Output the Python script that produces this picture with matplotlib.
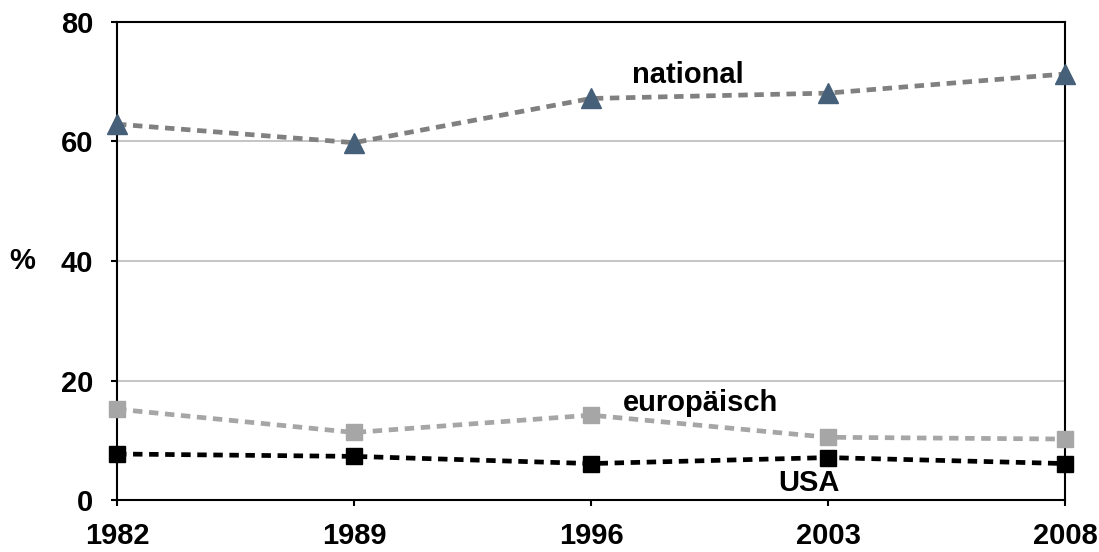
import matplotlib
matplotlib.use("Agg")
import matplotlib.pyplot as plt

years = ["1982", "1989", "1996", "2003", "2008"]
national = [62.9, 59.8, 67.2, 68.1, 71.3]
europaeisch = [15.2, 11.3, 14.2, 10.5, 10.2]
usa = [7.7, 7.3, 6.1, 7.1, 6.1]
yticks = [0, 20, 40, 60, 80]

plt.rcParams['font.family'] = ['Liberation Sans', 'DejaVu Sans']
plt.rcParams['font.weight'] = 'bold'

FS = 21

fig = plt.figure(figsize=(10.99, 5.52), dpi=100)
ax = fig.add_axes([117/1099, 1-500/552, (1065-117)/1099, (500-22)/552])

x = list(range(len(years)))
ax.plot(x, national, linestyle=(0, (2.0, 1.4)), color='#808080', lw=3.4,
        marker='^', ms=14, mfc='#466079', mec='#466079', clip_on=False, zorder=3)
ax.plot(x, europaeisch, linestyle=(0, (2.0, 1.4)), color='#a6a6a6', lw=3.4,
        marker='s', ms=11, mfc='#a6a6a6', mec='#a6a6a6', clip_on=False, zorder=3)
ax.plot(x, usa, linestyle=(0, (2.0, 1.4)), color='black', lw=3.4,
        marker='s', ms=11, mfc='black', mec='black', clip_on=False, zorder=3)

ax.set_xlim(0, 4)
ax.set_ylim(0, 80)
ax.set_xticks(x)
ax.set_xticklabels(years, fontsize=FS, fontweight='bold')
ax.set_yticks(yticks)
ax.set_yticklabels([str(v) for v in yticks], fontsize=FS, fontweight='bold')
ax.tick_params(axis='x', direction='out', length=4, width=1.5, pad=12)
ax.tick_params(axis='y', direction='out', length=4, width=1.5, pad=13)
for s in ax.spines.values():
    s.set_linewidth(1.5)
    s.set_color('black')
ax.yaxis.grid(True, color='#bfbfbf', lw=1.3)
ax.set_axisbelow(True)

ax.text(-0.40, 40, "%", fontsize=FS, fontweight='bold', ha='center', va='center',
        clip_on=False)

ax.text(2.41, 71.1, "national", fontsize=FS, fontweight='bold', ha='center', va='center')
ax.text(2.46, 16.2, "europäisch", fontsize=FS, fontweight='bold', ha='center', va='center')
ax.text(2.92, 2.85, "USA", fontsize=FS, fontweight='bold', ha='center', va='center')

fig.savefig("out.png", dpi=100)
